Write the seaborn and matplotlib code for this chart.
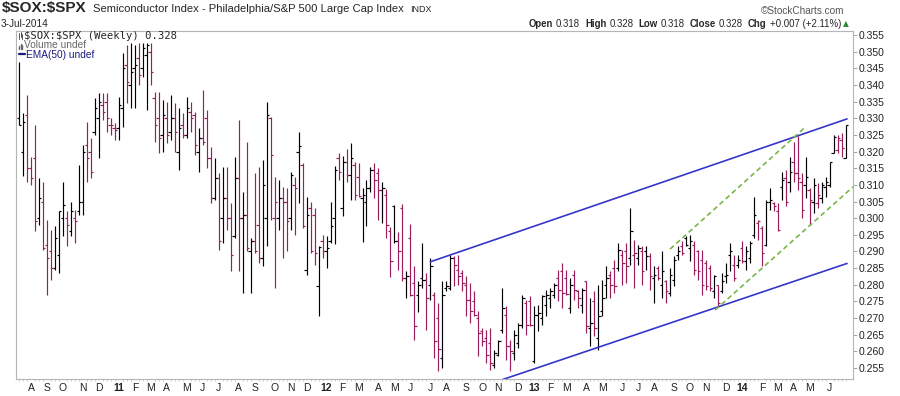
import numpy as np
import pandas as pd
import matplotlib
matplotlib.use("Agg")
import matplotlib.pyplot as plt
from matplotlib.lines import Line2D
import seaborn as sns

# weekly OHLC of $SOX:$SPX (Jul-2010 .. 3-Jul-2014)
opens = [
    0.330, 0.320, 0.331, 0.315, 0.318, 0.300, 0.305, 0.292, 0.290, 0.285,
    0.289, 0.300, 0.300, 0.296, 0.300, 0.302, 0.305, 0.322, 0.320, 0.326,
    0.330, 0.334, 0.335, 0.328, 0.327, 0.327, 0.333, 0.346, 0.340, 0.345,
    0.348, 0.345, 0.349, 0.350, 0.336, 0.330, 0.325, 0.330, 0.326, 0.330,
    0.320, 0.328, 0.325, 0.332, 0.331, 0.320, 0.324, 0.330, 0.318, 0.306,
    0.312, 0.300, 0.306, 0.300, 0.2945, 0.312, 0.300, 0.301, 0.290, 0.293,
    0.298, 0.288, 0.300, 0.330, 0.300, 0.300, 0.306, 0.305, 0.300, 0.310,
    0.320, 0.316, 0.2845, 0.303, 0.301, 0.2795, 0.293, 0.290, 0.293, 0.300,
    0.318, 0.303, 0.317, 0.313, 0.316, 0.3125, 0.306, 0.305, 0.309, 0.3145,
    0.3135, 0.3085, 0.307, 0.296, 0.3035, 0.293, 0.303, 0.282, 0.294, 0.2805,
    0.277, 0.282, 0.2815, 0.280, 0.277, 0.270, 0.258, 0.279, 0.279, 0.288,
    0.2845, 0.2835, 0.280, 0.2755, 0.275, 0.270, 0.266, 0.264, 0.2625, 0.256,
    0.259, 0.2665, 0.271, 0.2615, 0.2595, 0.2625, 0.268, 0.2745, 0.275, 0.257,
    0.271, 0.270, 0.274, 0.276, 0.277, 0.282, 0.284, 0.282, 0.273, 0.283,
    0.278, 0.274, 0.281, 0.267, 0.275, 0.264, 0.272, 0.280, 0.283, 0.285,
    0.285, 0.289, 0.290, 0.288, 0.289, 0.288, 0.290, 0.290, 0.2885, 0.282,
    0.285, 0.280, 0.281, 0.2775, 0.2815, 0.289, 0.2915, 0.294, 0.291, 0.292,
    0.290, 0.2875, 0.2865, 0.285, 0.278, 0.280, 0.278, 0.2825, 0.289, 0.286,
    0.286, 0.291, 0.287, 0.288, 0.295, 0.2985, 0.297, 0.292, 0.305, 0.3045,
    0.302, 0.3095, 0.312, 0.311, 0.317, 0.3135, 0.311, 0.310, 0.3085, 0.305,
    0.3045, 0.306, 0.3095, 0.310, 0.3195, 0.3205, 0.3235, 0.318,
]
highs = [
    0.347, 0.3315, 0.337, 0.3185, 0.328, 0.312, 0.311, 0.2995, 0.2965, 0.2975,
    0.302, 0.311, 0.302, 0.305, 0.3025, 0.316, 0.322, 0.329, 0.324, 0.336,
    0.3375, 0.3375, 0.3375, 0.330, 0.3285, 0.3365, 0.3495, 0.352, 0.3525, 0.352,
    0.3525, 0.3525, 0.3525, 0.3525, 0.338, 0.338, 0.3355, 0.335, 0.337, 0.3345,
    0.333, 0.3315, 0.3365, 0.335, 0.332, 0.327, 0.3385, 0.3325, 0.3215, 0.318,
    0.3135, 0.3155, 0.3155, 0.3045, 0.3185, 0.3295, 0.308, 0.323, 0.294, 0.3135,
    0.3155, 0.3175, 0.335, 0.3305, 0.3125, 0.3115, 0.3095, 0.309, 0.314, 0.3125,
    0.326, 0.3165, 0.3065, 0.305, 0.303, 0.2915, 0.295, 0.2945, 0.305, 0.3157,
    0.3197, 0.3187, 0.3207, 0.3225, 0.317, 0.3165, 0.309, 0.3115, 0.3155, 0.3165,
    0.315, 0.311, 0.3087, 0.2972, 0.304, 0.2957, 0.3043, 0.284, 0.2983, 0.2855,
    0.281, 0.2925, 0.2835, 0.288, 0.2777, 0.2745, 0.281, 0.281, 0.289, 0.2885,
    0.289, 0.2845, 0.2825, 0.2805, 0.278, 0.272, 0.267, 0.2665, 0.267, 0.2605,
    0.2635, 0.279, 0.2737, 0.2635, 0.2665, 0.2685, 0.277, 0.2755, 0.2765, 0.2735,
    0.274, 0.277, 0.2785, 0.279, 0.2805, 0.2845, 0.2865, 0.2845, 0.282, 0.2845,
    0.2785, 0.279, 0.281, 0.276, 0.278, 0.280, 0.2815, 0.2855, 0.284, 0.2875,
    0.2925, 0.2905, 0.2925, 0.303, 0.2935, 0.292, 0.2915, 0.2915, 0.2895, 0.2855,
    0.2855, 0.290, 0.2815, 0.285, 0.2885, 0.2915, 0.293, 0.2945, 0.295, 0.293,
    0.2905, 0.2905, 0.2875, 0.286, 0.283, 0.280, 0.2835, 0.2865, 0.2925, 0.289,
    0.289, 0.293, 0.2915, 0.293, 0.3065, 0.2995, 0.2975, 0.3055, 0.309, 0.305,
    0.3045, 0.314, 0.3145, 0.3185, 0.323, 0.3247, 0.3135, 0.3185, 0.309, 0.312,
    0.3105, 0.311, 0.3125, 0.317, 0.325, 0.325, 0.3255, 0.328,
]
lows = [
    0.328, 0.3128, 0.311, 0.310, 0.296, 0.298, 0.2905, 0.277, 0.2815, 0.2845,
    0.2835, 0.2945, 0.2915, 0.2945, 0.2925, 0.301, 0.3008, 0.311, 0.312, 0.325,
    0.318, 0.3295, 0.326, 0.325, 0.3235, 0.3235, 0.3275, 0.3345, 0.333, 0.333,
    0.340, 0.3425, 0.3325, 0.340, 0.323, 0.3195, 0.320, 0.3225, 0.3235, 0.320,
    0.3145, 0.324, 0.324, 0.326, 0.319, 0.314, 0.322, 0.315, 0.3045, 0.3055,
    0.2905, 0.2925, 0.2965, 0.284, 0.294, 0.284, 0.2775, 0.290, 0.2775, 0.2895,
    0.2865, 0.2855, 0.2915, 0.2995, 0.279, 0.2965, 0.288, 0.290, 0.2965, 0.295,
    0.3045, 0.297, 0.283, 0.2895, 0.286, 0.2707, 0.288, 0.285, 0.2925, 0.2923,
    0.3115, 0.3007, 0.311, 0.3055, 0.3055, 0.3065, 0.2927, 0.2975, 0.308, 0.306,
    0.2995, 0.2985, 0.294, 0.2823, 0.2925, 0.2845, 0.281, 0.276, 0.2765, 0.2635,
    0.2717, 0.279, 0.2665, 0.2755, 0.258, 0.254, 0.255, 0.278, 0.2785, 0.2795,
    0.280, 0.278, 0.2705, 0.2685, 0.2705, 0.2585, 0.2615, 0.2565, 0.2545, 0.255,
    0.2585, 0.2655, 0.2575, 0.254, 0.2575, 0.261, 0.267, 0.265, 0.2675, 0.2565,
    0.266, 0.268, 0.2705, 0.273, 0.276, 0.275, 0.273, 0.277, 0.2715, 0.2755,
    0.273, 0.2715, 0.2655, 0.2615, 0.2645, 0.2605, 0.2705, 0.276, 0.276, 0.2775,
    0.284, 0.280, 0.2805, 0.286, 0.279, 0.286, 0.280, 0.2845, 0.2785, 0.2745,
    0.2815, 0.276, 0.2745, 0.2765, 0.2795, 0.2875, 0.289, 0.2915, 0.287, 0.283,
    0.2815, 0.277, 0.2785, 0.278, 0.276, 0.2735, 0.2775, 0.2805, 0.284, 0.281,
    0.285, 0.2865, 0.2845, 0.2865, 0.294, 0.2935, 0.2855, 0.2915, 0.3025, 0.302,
    0.296, 0.3055, 0.3035, 0.308, 0.311, 0.3085, 0.300, 0.306, 0.298, 0.3015,
    0.303, 0.3045, 0.3065, 0.3095, 0.3195, 0.3195, 0.3185, 0.318,
]
closes = [
    0.328, 0.329, 0.315, 0.312, 0.299, 0.306, 0.291, 0.288, 0.285, 0.294,
    0.302, 0.304, 0.298, 0.302, 0.299, 0.305, 0.320, 0.318, 0.314, 0.333,
    0.335, 0.332, 0.330, 0.328, 0.3265, 0.334, 0.345, 0.341, 0.344, 0.346,
    0.343, 0.351, 0.352, 0.344, 0.328, 0.324, 0.331, 0.325, 0.330, 0.326,
    0.327, 0.325, 0.333, 0.330, 0.322, 0.324, 0.323, 0.318, 0.306, 0.312,
    0.293, 0.306, 0.300, 0.289, 0.312, 0.300, 0.301, 0.291, 0.293, 0.290,
    0.288, 0.310, 0.331, 0.319, 0.305, 0.306, 0.305, 0.299, 0.313, 0.309,
    0.3217, 0.2975, 0.301, 0.290, 0.2895, 0.2912, 0.290, 0.291, 0.2975, 0.3145,
    0.314, 0.317, 0.313, 0.318, 0.307, 0.3068, 0.307, 0.309, 0.3145, 0.3115,
    0.3085, 0.309, 0.298, 0.287, 0.293, 0.290, 0.282, 0.2825, 0.277, 0.2675,
    0.280, 0.2815, 0.276, 0.2855, 0.263, 0.2607, 0.277, 0.2795, 0.288, 0.286,
    0.2825, 0.2805, 0.2755, 0.272, 0.271, 0.2655, 0.263, 0.259, 0.2565, 0.2595,
    0.263, 0.273, 0.2615, 0.260, 0.265, 0.268, 0.276, 0.268, 0.2678, 0.271,
    0.2715, 0.2765, 0.277, 0.278, 0.280, 0.2785, 0.2775, 0.2772, 0.280, 0.2785,
    0.276, 0.2785, 0.2675, 0.2685, 0.267, 0.2705, 0.276, 0.282, 0.280, 0.2795,
    0.2905, 0.2865, 0.2855, 0.296, 0.2895, 0.291, 0.284, 0.2885, 0.2825, 0.2828,
    0.282, 0.284, 0.278, 0.283, 0.2875, 0.290, 0.2895, 0.292, 0.293, 0.2845,
    0.284, 0.280, 0.2795, 0.279, 0.2825, 0.2745, 0.281, 0.283, 0.290, 0.282,
    0.2875, 0.287, 0.290, 0.2925, 0.301, 0.299, 0.2895, 0.305, 0.3055, 0.3035,
    0.2965, 0.3115, 0.305, 0.314, 0.3135, 0.312, 0.3025, 0.3125, 0.3055, 0.310,
    0.307, 0.310, 0.3108, 0.317, 0.3245, 0.324, 0.321, 0.328,
]

# hand-drawn trend lines: (bar index, value) end points
upper_blue_x, upper_blue_y = [103, 207.3], [0.2869, 0.3298]
lower_blue_x, lower_blue_y = [120, 207.3], [0.2511, 0.2864]
upper_green_x, upper_green_y = [163, 197], [0.2907, 0.3275]
lower_green_x, lower_green_y = [174.3, 208.8], [0.2724, 0.3094]

dates = pd.date_range(end="2014-07-04", periods=len(closes), freq="W-FRI")
df = pd.DataFrame({"date": dates, "open": opens, "high": highs,
                   "low": lows, "close": closes})
df["i"] = np.arange(len(df))
down = df.close < df.close.shift(1)

BLACK, PURPLE = "#000000", "#9a1e5c"
BLUE, GREEN = "#3535cc", "#7ab648"

sns.set_theme(style="white")
plt.rcParams['font.family'] = ['Liberation Sans', 'DejaVu Sans']

fig = plt.figure(figsize=(9, 3.96), dpi=100)
ax = fig.add_axes([16 / 900, 1 - 379 / 396, (853 - 16) / 900, (379 - 31) / 396])

cols = np.where(down, PURPLE, BLACK)
ax.vlines(df.i, df.low, df.high, colors=cols, lw=0.85)
ax.hlines(df.open, df.i - 0.6, df.i, colors=cols, lw=0.85)
ax.hlines(df.close, df.i, df.i + 0.6, colors=cols, lw=0.85)

sns.lineplot(x=upper_blue_x, y=upper_blue_y, color=BLUE, lw=1.2, ax=ax)
sns.lineplot(x=lower_blue_x, y=lower_blue_y, color=BLUE, lw=1.2, ax=ax)
sns.lineplot(x=upper_green_x, y=upper_green_y, color=GREEN, lw=1.2,
             linestyle=(0, (3, 2)), ax=ax)
sns.lineplot(x=lower_green_x, y=lower_green_y, color=GREEN, lw=1.2,
             linestyle=(0, (3, 2)), ax=ax)

ax.set_xlim(-0.75, 208.8)
ax.set_ylim(0.2517, 0.3562)

# y axis on the right
yt = np.arange(0.255, 0.3551, 0.005)
ax.yaxis.tick_right()
ax.set_yticks(yt)
ax.set_yticklabels([f"{v:.3f}" for v in yt])
ax.tick_params(axis="y", right=True, left=False, length=3, width=0.6,
               color="#999999", labelsize=7.5, labelcolor="#222222", pad=1)

# month letters, year numbers in bold
letters = "JFMAMJJASOND"
pos, labs = [], []
for k in range(1, len(df) - 3):
    if dates[k].month != dates[k - 1].month:
        pos.append(k)
        labs.append(f"{dates[k].year % 100}" if dates[k].month == 1 else letters[dates[k].month - 1])
ax.set_xticks(pos)
ax.set_xticklabels(labs)
for t in ax.get_xticklabels():
    if t.get_text().isdigit():
        t.set_fontweight("bold")
        t.set_fontsize(8.5)
ax.set_xticks(df.i, minor=True)
ax.tick_params(axis="x", which="major", length=0, labelsize=7.5,
               labelcolor="#222222", pad=3)
ax.tick_params(axis="x", which="minor", bottom=True, length=1.5,
               width=0.5, color="#bbbbbb")
ax.set_xlabel("")
ax.set_ylabel("")
for s in ax.spines.values():
    s.set_color("#b5b5b5")
    s.set_linewidth(0.8)

# header and legend text
def px(x, y):
    return x / 900, 1 - y / 396

def seg(x0, y0, x1, y1, **kw):
    a, b = px(x0, y0)
    c, d = px(x1, y1)
    fig.add_artist(Line2D([a, c], [b, d], transform=fig.transFigure, **kw))

fig.text(*px(2, 12), "$SOX:$SPX", weight="bold", size=11, va="baseline", parse_math=False)
fig.text(*px(93, 12), "Semiconductor Index - Philadelphia/S&P 500 Large Cap Index",
         size=8.1, va="baseline", parse_math=False)
fig.text(*px(410, 12), "INDX", size=6.5, va="baseline")
fig.text(*px(1, 27), "3-Jul-2014", size=7.2, va="baseline")
fig.text(*px(844, 14), "\u00a9StockCharts.com", size=7.2, color="#555555",
         ha="right", va="baseline")

renderer = fig.canvas.get_renderer()
pieces = [("Open", "bold"), ("0.318", "normal"), ("High", "bold"), ("0.328", "normal"),
          ("Low", "bold"), ("0.318", "normal"), ("Close", "bold"), ("0.328", "normal"),
          ("Chg", "bold"), ("+0.007 (+2.11%)", "normal")]
x = 539
texts = []
for s, w in pieces:
    t = fig.text(*px(x, 27), s, weight=w, va="baseline", size=6.9)
    texts.append(t)
    bb = t.get_window_extent(renderer=renderer)
    x = bb.x1 + (3 if w == "bold" else 5)
shift = 841 - (x - 5)
for t in texts:
    tx, ty = t.get_position()
    t.set_position((tx + shift / 900, ty))
fig.text(*px(843, 26.5), "\u25b2", size=5.5, color="#2e8b3a", va="baseline",
         family="DejaVu Sans")

# legend in the top-left corner of the plot
fig.text(*px(24, 39), "$SOX:$SPX (Weekly) 0.328", family="DejaVu Sans Mono",
         size=7.6, va="baseline", parse_math=False)
for xx, a, b in [(19, 33, 39), (20.5, 32, 37), (22, 34, 39)]:
    seg(xx, a, xx, b, color="#333333", lw=0.6)
fig.text(*px(24, 48.5), "Volume undef", size=7.3, color="#666666", va="baseline")
for xx, a in [(19, 45.5), (20.5, 43.5), (22, 44.5)]:
    seg(xx, a, xx, 48.5, color="#666666", lw=1.0)
fig.text(*px(25.5, 57.5), "EMA(50) undef", size=7.3, color="#1a1a80", va="baseline")
seg(18.5, 54, 24.5, 54, color="#1a1a80", lw=1.6)

fig.savefig("out.png", dpi=100, facecolor="white")
